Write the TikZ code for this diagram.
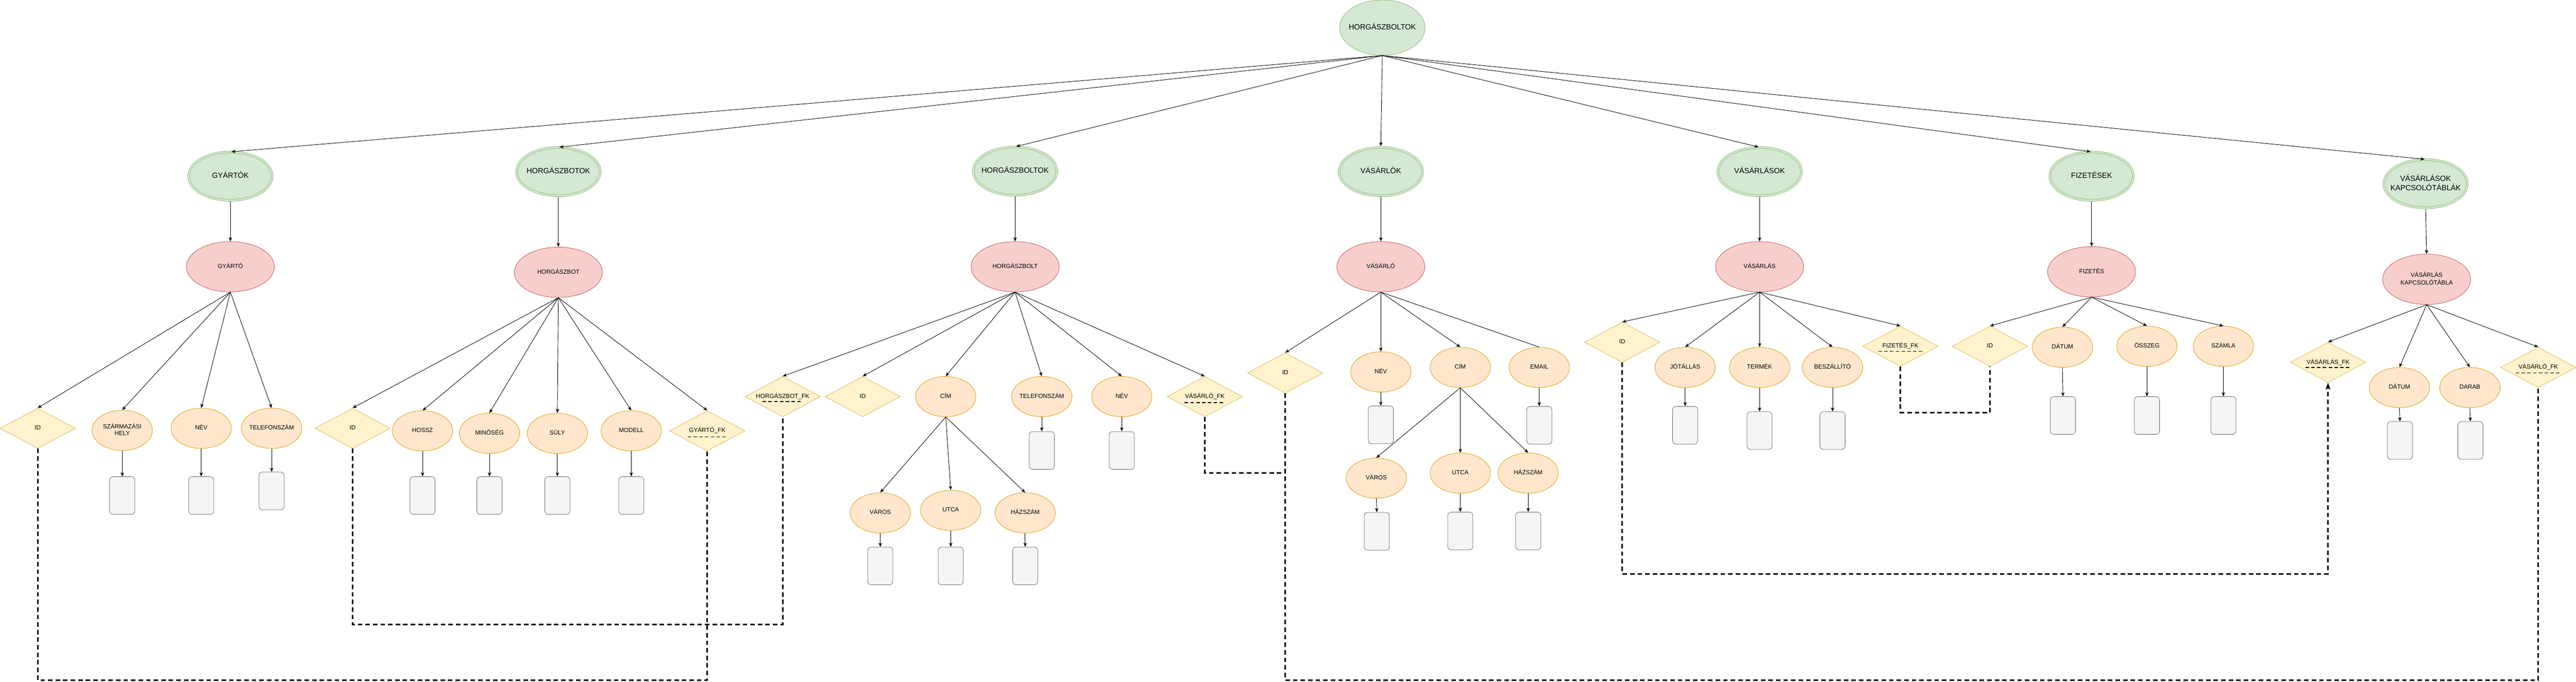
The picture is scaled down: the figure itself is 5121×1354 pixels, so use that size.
\documentclass[tikz,border=0pt]{standalone}
\usepackage{fontspec}
\setmainfont{Liberation Sans}
\usetikzlibrary{shapes.geometric,arrows.meta}
\definecolor{gfill}{HTML}{D5E8D4}\definecolor{gline}{HTML}{82B366}
\definecolor{rfill}{HTML}{F8CECC}\definecolor{rline}{HTML}{B85450}
\definecolor{ofill}{HTML}{FFE6CC}\definecolor{oline}{HTML}{D79B00}
\definecolor{yfill}{HTML}{FFF2CC}\definecolor{yline}{HTML}{D6B656}
\definecolor{bfill}{HTML}{F5F5F5}\definecolor{bline}{HTML}{666666}
\newcommand{\zt}[1]{\makebox[0pt]{\begin{tabular}{@{}c@{}}#1\end{tabular}}}
\tikzset{
  rootnode/.style={ellipse, draw=gline, fill=gfill, line width=0.8pt, minimum width=170pt, minimum height=110pt, inner sep=0pt, font=\fontsize{15}{18}\selectfont},
  tablenode/.style={ellipse, draw=gline, fill=gfill, line width=0.8pt, double=gfill, double distance=3pt, minimum width=166pt, minimum height=96pt, inner sep=0pt, font=\fontsize{15}{18}\selectfont},
  entity/.style={ellipse, draw=rline, fill=rfill, line width=0.8pt, minimum width=175pt, minimum height=100pt, inner sep=0pt, font=\fontsize{12}{14}\selectfont},
  attr/.style={ellipse, draw=oline, fill=ofill, line width=0.8pt, minimum width=120pt, minimum height=80pt, inner sep=0pt, font=\fontsize{12}{14}\selectfont},
  keyd/.style={diamond, draw=yline, fill=yfill, line width=0.8pt, minimum width=150pt, minimum height=80pt, inner sep=0pt, font=\fontsize{12}{14}\selectfont},
  valbox/.style={rectangle, rounded corners=7pt, draw=bline, fill=bfill, line width=0.8pt, minimum width=50pt, minimum height=75pt, inner sep=0pt},
  conn/.style={draw=black, line width=0.9pt, -{Stealth[length=8pt,width=6.5pt,inset=2pt]}},
  pline/.style={draw=black, line width=0.9pt},
  fkl/.style={draw=black, line width=3pt, dash pattern=on 9pt off 6pt},
  fku/.style={draw=black, line width=2pt, dash pattern=on 7pt off 4.5pt},
}
\begin{document}
\begin{tikzpicture}[x=1pt,y=-1pt]
\useasboundingbox (0,0) rectangle (5121,1354);
% root
\node[rootnode] (root) at (2748,55) {\zt{HORGÁSZBOLTOK}};
% tables
\node[tablenode] (t_gy) at (458,350) {\zt{GYÁRTÓK}};
\node[tablenode] (t_hb) at (1110,341) {\zt{HORGÁSZBOTOK}};
\node[tablenode] (t_hl) at (2018,340) {\zt{HORGÁSZBOLTOK}};
\node[tablenode] (t_v) at (2745,341) {\zt{VÁSÁRLÓK}};
\node[tablenode] (t_vs) at (3498,341) {\zt{VÁSÁRLÁSOK}};
\node[tablenode] (t_f) at (4158,350) {\zt{FIZETÉSEK}};
\node[tablenode] (t_k) at (4822,365) {\zt{VÁSÁRLÁSOK\\KAPCSOLÓTÁBLÁK}};
% entities
\node[entity] (e_gy) at (458,530) {\zt{GYÁRTÓ}};
\node[entity] (e_hb) at (1110,541) {\zt{HORGÁSZBOT}};
\node[entity] (e_hl) at (2018,530) {\zt{HORGÁSZBOLT}};
\node[entity] (e_v) at (2745,530) {\zt{VÁSÁRLÓ}};
\node[entity] (e_vs) at (3498,530) {\zt{VÁSÁRLÁS}};
\node[entity] (e_f) at (4158,540) {\zt{FIZETÉS}};
\node[entity] (e_k) at (4824,555) {\zt{VÁSÁRLÁS\\KAPCSOLÓTÁBLA}};
% GYÁRTÓ attributes
\node[keyd] (g_id) at (75,851) {\zt{ID}};
\node[attr] (g_szh) at (243,855) {\zt{SZÁRMAZÁSI\\HELY}};
\node[attr] (g_nev) at (400,851) {\zt{NÉV}};
\node[attr] (g_tel) at (540,851) {\zt{TELEFONSZÁM}};
\node[valbox] (g_szh_b) at (243,984.5) {};
\node[valbox] (g_nev_b) at (400,984.5) {};
\node[valbox] (g_tel_b) at (540,975.5) {};
% HORGÁSZBOT attributes
\node[keyd] (hb_id) at (701,851) {\zt{ID}};
\node[attr] (hb_hossz) at (840,856) {\zt{HOSSZ}};
\node[attr] (hb_min) at (973,861) {\zt{MINŐSÉG}};
\node[attr] (hb_suly) at (1108,861) {\zt{SÚLY}};
\node[attr] (hb_mod) at (1255,856) {\zt{MODELL}};
\node[keyd] (hb_gyfk) at (1406,856) {\zt{GYÁRTÓ\_FK}};
\node[valbox] (hb_hossz_b) at (840,984.5) {};
\node[valbox] (hb_min_b) at (973,984.5) {};
\node[valbox] (hb_suly_b) at (1108,984.5) {};
\node[valbox] (hb_mod_b) at (1255,984.5) {};
% HORGÁSZBOLT attributes
\node[keyd] (hl_hbfk) at (1556,788) {\zt{HORGÁSZBOT\_FK}};
\node[keyd] (hl_id) at (1715,788) {\zt{ID}};
\node[attr] (hl_cim) at (1880,788) {\zt{CÍM}};
\node[attr] (hl_tel) at (2071,788) {\zt{TELEFONSZÁM}};
\node[attr] (hl_nev) at (2230,788) {\zt{NÉV}};
\node[keyd] (hl_vfk) at (2395,788) {\zt{VÁSÁRLÓ\_FK}};
\node[attr] (hl_varos) at (1750,1019) {\zt{VÁROS}};
\node[attr] (hl_utca) at (1890,1014) {\zt{UTCA}};
\node[attr] (hl_haz) at (2038,1019) {\zt{HÁZSZÁM}};
\node[valbox] (hl_tel_b) at (2071,895) {};
\node[valbox] (hl_nev_b) at (2230,895) {};
\node[valbox] (hl_varos_b) at (1750,1124.5) {};
\node[valbox] (hl_utca_b) at (1890,1124.5) {};
\node[valbox] (hl_haz_b) at (2038,1124.5) {};
% VÁSÁRLÓ attributes
\node[keyd] (v_id) at (2555,741) {\zt{ID}};
\node[attr] (v_nev) at (2745,739) {\zt{NÉV}};
\node[attr] (v_cim) at (2903,730) {\zt{CÍM}};
\node[attr] (v_email) at (3060,730) {\zt{EMAIL}};
\node[attr] (v_varos) at (2736,950) {\zt{VÁROS}};
\node[attr] (v_utca) at (2903,940) {\zt{UTCA}};
\node[attr] (v_haz) at (3038,940) {\zt{HÁZSZÁM}};
\node[valbox] (v_nev_b) at (2745,844) {};
\node[valbox] (v_email_b) at (3060,845) {};
\node[valbox] (v_varos_b) at (2737,1055.5) {};
\node[valbox] (v_utca_b) at (2903,1055) {};
\node[valbox] (v_haz_b) at (3038,1055) {};
% VÁSÁRLÁS attributes
\node[keyd] (vs_id) at (3225,680) {\zt{ID}};
\node[attr] (vs_jot) at (3350,730) {\zt{JÓTÁLLÁS}};
\node[attr] (vs_term) at (3498,730) {\zt{TERMÉK}};
\node[attr] (vs_besz) at (3643,730) {\zt{BESZÁLLÍTÓ}};
\node[keyd] (vs_fizfk) at (3778,688) {\zt{FIZETÉS\_FK}};
\node[valbox] (vs_jot_b) at (3350,845) {};
\node[valbox] (vs_term_b) at (3498,855.5) {};
\node[valbox] (vs_besz_b) at (3643,855.5) {};
% FIZETÉS attributes
\node[keyd] (f_id) at (3956,688) {\zt{ID}};
\node[attr] (f_dat) at (4100,690) {\zt{DÁTUM}};
\node[attr] (f_ossz) at (4268,688) {\zt{ÖSSZEG}};
\node[attr] (f_szam) at (4420,688) {\zt{SZÁMLA}};
\node[valbox] (f_dat_b) at (4101,825.5) {};
\node[valbox] (f_ossz_b) at (4268,825.5) {};
\node[valbox] (f_szam_b) at (4420,825.5) {};
% KAPCSOLÓTÁBLA attributes
\node[keyd] (k_vsfk) at (4628,720) {\zt{VÁSÁRLÁS\_FK}};
\node[attr] (k_dat) at (4770,770) {\zt{DÁTUM}};
\node[attr] (k_dar) at (4910,770) {\zt{DARAB}};
\node[keyd] (k_vfk) at (5046,730) {\zt{VÁSÁRLÓ\_FK}};
\node[valbox] (k_dat_b) at (4771,875) {};
\node[valbox] (k_dar_b) at (4911,875) {};
% FK underlines
\draw[fku] ([xshift=-39pt,yshift=-12pt]hb_gyfk.center) -- ([xshift=39pt,yshift=-12pt]hb_gyfk.center);
\draw[fku] ([xshift=-40pt,yshift=-10pt]hl_hbfk.center) -- ([xshift=40pt,yshift=-10pt]hl_hbfk.center);
\draw[fku] ([xshift=-40pt,yshift=-12pt]hl_vfk.center) -- ([xshift=40pt,yshift=-12pt]hl_vfk.center);
\draw[fku] ([xshift=-44pt,yshift=-10pt]vs_fizfk.center) -- ([xshift=44pt,yshift=-10pt]vs_fizfk.center);
\draw[fku] ([xshift=-45pt,yshift=-10pt]k_vsfk.center) -- ([xshift=45pt,yshift=-10pt]k_vsfk.center);
\draw[fku] ([xshift=-45pt,yshift=-11pt]k_vfk.center) -- ([xshift=45pt,yshift=-11pt]k_vfk.center);
% root to tables
\foreach \t in {t_gy,t_hb,t_hl,t_v,t_vs,t_f,t_k}
  \draw[conn, shorten >=2pt] (root.south) -- (\t.north);
% tables to entities
\foreach \a/\b in {t_gy/e_gy,t_hb/e_hb,t_hl/e_hl,t_v/e_v,t_vs/e_vs,t_f/e_f,t_k/e_k}
  \draw[conn, shorten <=2pt] (\a.south) -- (\b.north);
% entities to attributes
\foreach \c in {g_id,g_szh,g_nev,g_tel} \draw[conn] (e_gy.south) -- (\c.north);
\foreach \c in {hb_id,hb_hossz,hb_min,hb_suly,hb_mod,hb_gyfk} \draw[conn] (e_hb.south) -- (\c.north);
\foreach \c in {hl_hbfk,hl_id,hl_cim,hl_tel,hl_nev,hl_vfk} \draw[conn] (e_hl.south) -- (\c.north);
\foreach \c in {hl_varos,hl_utca,hl_haz} \draw[conn] (hl_cim.south) -- (\c.north);
\foreach \c in {v_id,v_nev,v_cim} \draw[conn] (e_v.south) -- (\c.north);
\draw[pline] (e_v.south) -- (v_email.north);
\foreach \c in {v_varos,v_utca,v_haz} \draw[conn] (v_cim.south) -- (\c.north);
\foreach \c in {vs_id,vs_jot,vs_term,vs_besz,vs_fizfk} \draw[conn] (e_vs.south) -- (\c.north);
\foreach \c in {f_id,f_dat,f_ossz,f_szam} \draw[conn] (e_f.south) -- (\c.north);
\foreach \c in {k_vsfk,k_dat,k_dar,k_vfk} \draw[conn] (e_k.south) -- (\c.north);
% attributes to value boxes
\foreach \c in {g_szh,g_nev,g_tel,hb_hossz,hb_min,hb_suly,hb_mod,hl_tel,hl_nev,hl_varos,hl_utca,hl_haz,v_nev,v_email,v_varos,v_utca,v_haz,vs_jot,vs_term,vs_besz,f_dat,f_ossz,f_szam,k_dat,k_dar}
  \draw[conn] (\c.south) -- (\c_b.north);
% foreign key links
\coordinate (ybot) at (0,1351);
\coordinate (y1241) at (0,1241);
\coordinate (y940) at (0,940);
\coordinate (y1140) at (0,1140);
\coordinate (y820) at (0,820);
\draw[fkl] (g_id.south) -- (g_id.south |- ybot) -| (hb_gyfk.south);
\draw[fkl] (hb_id.south) -- (hb_id.south |- y1241) -| (hl_hbfk.south);
\draw[fkl] (v_id.south) -- (v_id.south |- ybot) -| (k_vfk.south);
\draw[fkl] (hl_vfk.south) |- (v_id.south |- y940);
\draw[fkl] (vs_fizfk.south) -- (vs_fizfk.south |- y820) -| (f_id.south);
\draw[fkl, -{Stealth[length=14pt,width=10pt,inset=4pt]}] (vs_id.south) -- (vs_id.south |- y1140) -| (k_vsfk.south);
\end{tikzpicture}
\end{document}
